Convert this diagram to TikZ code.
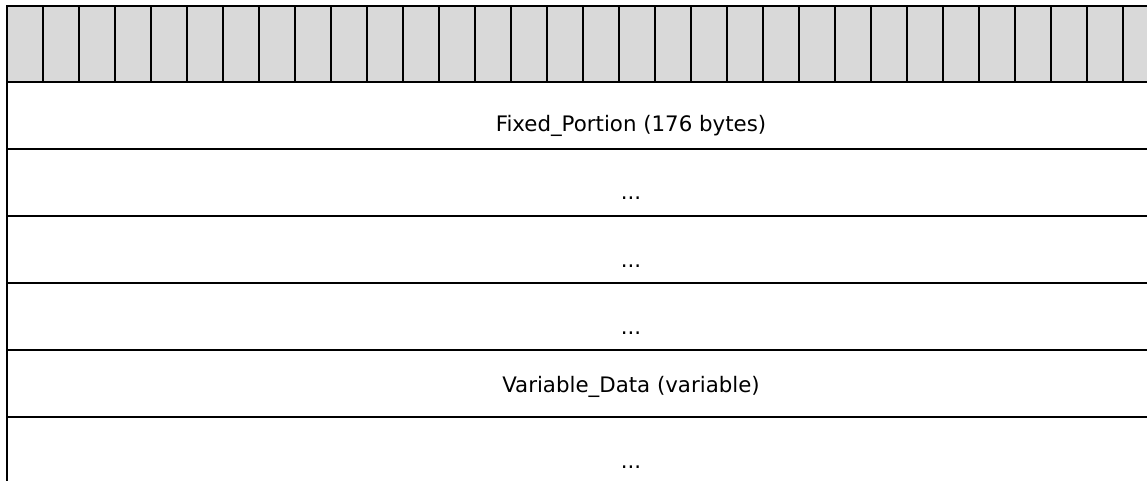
\documentclass[tikz,border=0pt]{standalone}
\usepackage{fontspec}
\setmainfont{DejaVu Sans}
\usetikzlibrary{positioning,calc}
\definecolor{cellgray}{RGB}{217,217,217}
\tikzset{
  bit/.style={draw,fill=cellgray,line width=1.3pt,minimum width=27pt,minimum height=57pt,inner sep=0pt,outer sep=0pt,anchor=north west},
  field/.style={draw,line width=1.3pt,minimum width=936pt,minimum height=50.25pt,inner sep=0pt,outer sep=0pt},
  lbl/.style={anchor=base,font=\fontsize{16}{19}\selectfont,inner sep=0pt}
}

\begin{document}
\begin{tikzpicture}[x=0.75pt,y=-0.75pt]
      \useasboundingbox (0,0) rectangle (1147,480);
      \clip (0,0) rectangle (1147,480);

      \foreach \i in {1,...,32}
        \node[bit] (b\i) at ({7+36*(\i-1)},6) {};

      \node[field,anchor=north west] (f1) at (b1.south west) {};
      \node[field,below=0pt of f1] (f2) {};
      \node[field,below=0pt of f2] (f3) {};
      \node[field,below=0pt of f3] (f4) {};
      \node[field,below=0pt of f4] (f5) {};
      \node[field,below=0pt of f5] (f6) {};

      \node[lbl] (l1) at ($(f1.center)+(0,16)$) {Fixed\_Portion (176 bytes)};
      \node[lbl] (l2) at ($(f2.center)+(0,17)$) {...};
      \node[lbl] (l3) at ($(f3.center)+(0,18)$) {...};
      \node[lbl] (l4) at ($(f4.center)+(0,18)$) {...};
      \node[lbl] (l5) at ($(f5.center)+(0,9)$) {Variable\_Data (variable)};
      \node[lbl] (l6) at ($(f6.center)+(0,18)$) {...};
\end{tikzpicture}
\end{document}
